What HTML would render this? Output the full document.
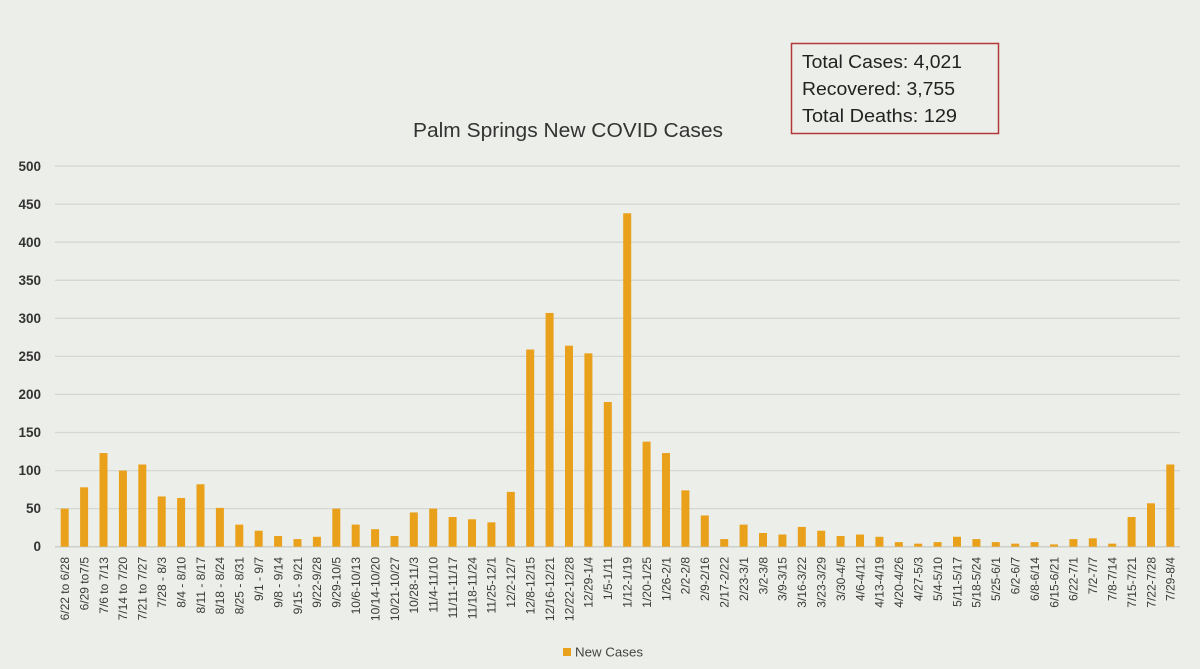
<!DOCTYPE html>
<html><head><meta charset="utf-8"><style>
html,body{margin:0;padding:0;background:#ECEEE9;}
svg{display:block;}
</style></head><body>
<svg width="1200" height="669" viewBox="0 0 1200 669" xmlns="http://www.w3.org/2000/svg">
<rect x="0" y="0" width="1200" height="669" fill="#ECEEE9"/>
<!-- info box -->
<rect x="791.5" y="43.5" width="207" height="90" fill="none" stroke="#B3383A" stroke-width="1.5"/>
<g font-family="Liberation Sans, sans-serif" font-size="18.5" fill="#222">
<text x="802" y="68" textLength="160" lengthAdjust="spacingAndGlyphs">Total Cases: 4,021</text>
<text x="802" y="95" textLength="153" lengthAdjust="spacingAndGlyphs">Recovered: 3,755</text>
<text x="802" y="122" textLength="155" lengthAdjust="spacingAndGlyphs">Total Deaths: 129</text>
</g>
<!-- title -->
<text x="413" y="137" font-family="Liberation Sans, sans-serif" font-size="20" fill="#333" textLength="310" lengthAdjust="spacingAndGlyphs">Palm Springs New COVID Cases</text>
<!-- gridlines -->
<g stroke="#D4D7D2" stroke-width="1.3">
<line x1="55" y1="166.05" x2="1180" y2="166.05"/>
<line x1="55" y1="204.1" x2="1180" y2="204.1"/>
<line x1="55" y1="242.2" x2="1180" y2="242.2"/>
<line x1="55" y1="280.3" x2="1180" y2="280.3"/>
<line x1="55" y1="318.3" x2="1180" y2="318.3"/>
<line x1="55" y1="356.4" x2="1180" y2="356.4"/>
<line x1="55" y1="394.4" x2="1180" y2="394.4"/>
<line x1="55" y1="432.5" x2="1180" y2="432.5"/>
<line x1="55" y1="470.6" x2="1180" y2="470.6"/>
<line x1="55" y1="508.6" x2="1180" y2="508.6"/>
</g>
<line x1="55" y1="546.7" x2="1180" y2="546.7" stroke="#CCCFCA" stroke-width="1.5"/>
<!-- y tick labels -->
<g font-family="Liberation Sans, sans-serif" font-size="13.5" font-weight="bold" fill="#333" text-anchor="end">
<text x="41" y="171">500</text>
<text x="41" y="209">450</text>
<text x="41" y="247">400</text>
<text x="41" y="285">350</text>
<text x="41" y="323">300</text>
<text x="41" y="361">250</text>
<text x="41" y="399">200</text>
<text x="41" y="437">150</text>
<text x="41" y="475">100</text>
<text x="41" y="513">50</text>
<text x="41" y="551">0</text>
</g>
<!-- bars -->
<g transform="translate(0,546.7) scale(1,-0.7613)" fill="#E9A01B">
<rect x="60.7" y="0" width="8" height="50"/>
<rect x="80.1" y="0" width="8" height="78"/>
<rect x="99.5" y="0" width="8" height="123"/>
<rect x="118.9" y="0" width="8" height="100"/>
<rect x="138.3" y="0" width="8" height="108"/>
<rect x="157.7" y="0" width="8" height="66"/>
<rect x="177.1" y="0" width="8" height="64"/>
<rect x="196.5" y="0" width="8" height="82"/>
<rect x="215.9" y="0" width="8" height="51"/>
<rect x="235.3" y="0" width="8" height="29"/>
<rect x="254.7" y="0" width="8" height="21"/>
<rect x="274.1" y="0" width="8" height="14"/>
<rect x="293.5" y="0" width="8" height="10"/>
<rect x="312.9" y="0" width="8" height="13"/>
<rect x="332.3" y="0" width="8" height="50"/>
<rect x="351.7" y="0" width="8" height="29"/>
<rect x="371.1" y="0" width="8" height="23"/>
<rect x="390.5" y="0" width="8" height="14"/>
<rect x="409.8" y="0" width="8" height="45"/>
<rect x="429.2" y="0" width="8" height="50"/>
<rect x="448.6" y="0" width="8" height="39"/>
<rect x="468.0" y="0" width="8" height="36"/>
<rect x="487.4" y="0" width="8" height="32"/>
<rect x="506.8" y="0" width="8" height="72"/>
<rect x="526.2" y="0" width="8" height="259"/>
<rect x="545.6" y="0" width="8" height="307"/>
<rect x="565.0" y="0" width="8" height="264"/>
<rect x="584.4" y="0" width="8" height="254"/>
<rect x="603.8" y="0" width="8" height="190"/>
<rect x="623.2" y="0" width="8" height="438"/>
<rect x="642.6" y="0" width="8" height="138"/>
<rect x="662.0" y="0" width="8" height="123"/>
<rect x="681.4" y="0" width="8" height="74"/>
<rect x="700.8" y="0" width="8" height="41"/>
<rect x="720.2" y="0" width="8" height="10"/>
<rect x="739.6" y="0" width="8" height="29"/>
<rect x="759.0" y="0" width="8" height="18"/>
<rect x="778.4" y="0" width="8" height="16"/>
<rect x="797.8" y="0" width="8" height="26"/>
<rect x="817.2" y="0" width="8" height="21"/>
<rect x="836.6" y="0" width="8" height="14"/>
<rect x="856.0" y="0" width="8" height="16"/>
<rect x="875.4" y="0" width="8" height="13"/>
<rect x="894.8" y="0" width="8" height="6"/>
<rect x="914.2" y="0" width="8" height="4"/>
<rect x="933.6" y="0" width="8" height="6"/>
<rect x="953.0" y="0" width="8" height="13"/>
<rect x="972.4" y="0" width="8" height="10"/>
<rect x="991.8" y="0" width="8" height="6"/>
<rect x="1011.2" y="0" width="8" height="4"/>
<rect x="1030.6" y="0" width="8" height="6"/>
<rect x="1050.0" y="0" width="8" height="3"/>
<rect x="1069.4" y="0" width="8" height="10"/>
<rect x="1088.8" y="0" width="8" height="11"/>
<rect x="1108.2" y="0" width="8" height="4"/>
<rect x="1127.6" y="0" width="8" height="39"/>
<rect x="1147.0" y="0" width="8" height="57"/>
<rect x="1166.3" y="0" width="8" height="108"/>
</g>
<!-- x labels -->
<g font-family="Liberation Sans, sans-serif" font-size="12" fill="#3A3A3A" text-anchor="end">
<text transform="translate(69.0,557) rotate(-90)">6/22 to 6/28</text>
<text transform="translate(88.4,557) rotate(-90)">6/29 to7/5</text>
<text transform="translate(107.8,557) rotate(-90)">7/6 to 7/13</text>
<text transform="translate(127.2,557) rotate(-90)">7/14 to 7/20</text>
<text transform="translate(146.6,557) rotate(-90)">7/21 to 7/27</text>
<text transform="translate(166.0,557) rotate(-90)">7/28 - 8/3</text>
<text transform="translate(185.4,557) rotate(-90)">8/4 - 8/10</text>
<text transform="translate(204.8,557) rotate(-90)">8/11 - 8/17</text>
<text transform="translate(224.2,557) rotate(-90)">8/18 - 8/24</text>
<text transform="translate(243.6,557) rotate(-90)">8/25 - 8/31</text>
<text transform="translate(263.0,557) rotate(-90)">9/1 - 9/7</text>
<text transform="translate(282.4,557) rotate(-90)">9/8 - 9/14</text>
<text transform="translate(301.8,557) rotate(-90)">9/15 - 9/21</text>
<text transform="translate(321.2,557) rotate(-90)">9/22-9/28</text>
<text transform="translate(340.6,557) rotate(-90)">9/29-10/5</text>
<text transform="translate(360.0,557) rotate(-90)">10/6-10/13</text>
<text transform="translate(379.4,557) rotate(-90)">10/14-10/20</text>
<text transform="translate(398.8,557) rotate(-90)">10/21-10/27</text>
<text transform="translate(418.1,557) rotate(-90)">10/28-11/3</text>
<text transform="translate(437.5,557) rotate(-90)">11/4-11/10</text>
<text transform="translate(456.9,557) rotate(-90)">11/11-11/17</text>
<text transform="translate(476.3,557) rotate(-90)">11/18-11/24</text>
<text transform="translate(495.7,557) rotate(-90)">11/25-12/1</text>
<text transform="translate(515.1,557) rotate(-90)">12/2-12/7</text>
<text transform="translate(534.5,557) rotate(-90)">12/8-12/15</text>
<text transform="translate(553.9,557) rotate(-90)">12/16-12/21</text>
<text transform="translate(573.3,557) rotate(-90)">12/22-12/28</text>
<text transform="translate(592.7,557) rotate(-90)">12/29-1/4</text>
<text transform="translate(612.1,557) rotate(-90)">1/5-1/11</text>
<text transform="translate(631.5,557) rotate(-90)">1/12-1/19</text>
<text transform="translate(650.9,557) rotate(-90)">1/20-1/25</text>
<text transform="translate(670.3,557) rotate(-90)">1/26-2/1</text>
<text transform="translate(689.7,557) rotate(-90)">2/2-2/8</text>
<text transform="translate(709.1,557) rotate(-90)">2/9-2/16</text>
<text transform="translate(728.5,557) rotate(-90)">2/17-2/22</text>
<text transform="translate(747.9,557) rotate(-90)">2/23-3/1</text>
<text transform="translate(767.3,557) rotate(-90)">3/2-3/8</text>
<text transform="translate(786.7,557) rotate(-90)">3/9-3/15</text>
<text transform="translate(806.1,557) rotate(-90)">3/16-3/22</text>
<text transform="translate(825.5,557) rotate(-90)">3/23-3/29</text>
<text transform="translate(844.9,557) rotate(-90)">3/30-4/5</text>
<text transform="translate(864.3,557) rotate(-90)">4/6-4/12</text>
<text transform="translate(883.7,557) rotate(-90)">4/13-4/19</text>
<text transform="translate(903.1,557) rotate(-90)">4/20-4/26</text>
<text transform="translate(922.5,557) rotate(-90)">4/27-5/3</text>
<text transform="translate(941.9,557) rotate(-90)">5/4-5/10</text>
<text transform="translate(961.3,557) rotate(-90)">5/11-5/17</text>
<text transform="translate(980.7,557) rotate(-90)">5/18-5/24</text>
<text transform="translate(1000.1,557) rotate(-90)">5/25-6/1</text>
<text transform="translate(1019.5,557) rotate(-90)">6/2-6/7</text>
<text transform="translate(1038.9,557) rotate(-90)">6/8-6/14</text>
<text transform="translate(1058.3,557) rotate(-90)">6/15-6/21</text>
<text transform="translate(1077.7,557) rotate(-90)">6/22-7/1</text>
<text transform="translate(1097.1,557) rotate(-90)">7/2-7/7</text>
<text transform="translate(1116.5,557) rotate(-90)">7/8-7/14</text>
<text transform="translate(1135.9,557) rotate(-90)">7/15-7/21</text>
<text transform="translate(1155.3,557) rotate(-90)">7/22-7/28</text>
<text transform="translate(1174.6,557) rotate(-90)">7/29-8/4</text>
</g>
<!-- legend -->
<rect x="563" y="648" width="8" height="8" fill="#E9A01B"/>
<text x="575" y="656.5" font-family="Liberation Sans, sans-serif" font-size="13" fill="#444" textLength="68" lengthAdjust="spacingAndGlyphs">New Cases</text>
</svg>
</body></html>
